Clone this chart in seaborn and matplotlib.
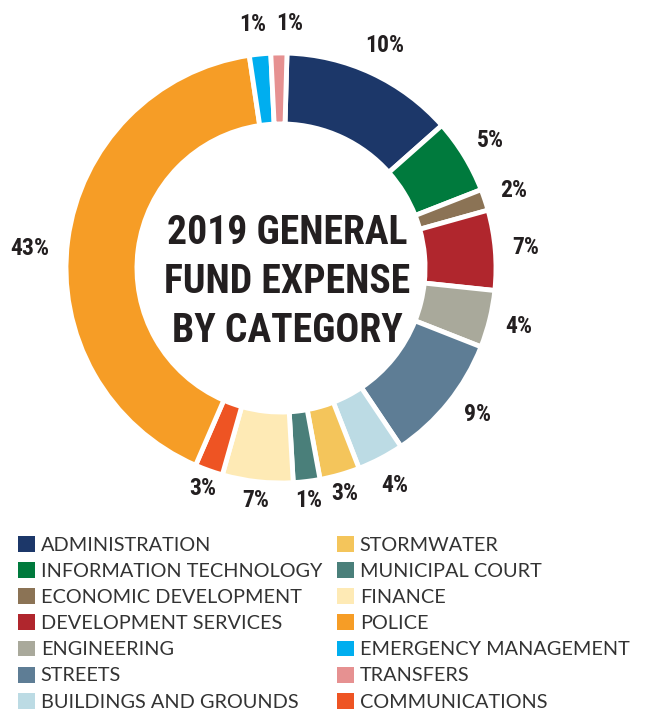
import numpy as np
import matplotlib
matplotlib.use("Agg")
import matplotlib.pyplot as plt
from matplotlib.patches import Patch
import seaborn as sns

# categories in the order the slices run, clockwise from 12 o'clock
categories = ["ADMINISTRATION", "INFORMATION TECHNOLOGY", "ECONOMIC DEVELOPMENT",
              "DEVELOPMENT SERVICES", "ENGINEERING", "STREETS", "BUILDINGS AND GROUNDS",
              "STORMWATER", "MUNICIPAL COURT", "FINANCE", "COMMUNICATIONS", "POLICE",
              "EMERGENCY MANAGEMENT", "TRANSFERS"]
# slice sizes as they are drawn (percent of the ring)
share = [13.0, 5.6, 1.6, 6.0, 4.3, 9.6, 3.5, 3.0, 2.0, 5.3, 2.1, 41.1, 1.6, 1.2]
# percentages printed next to the slices
pct_labels = ["10%", "5%", "2%", "7%", "4%", "9%", "4%", "3%", "1%", "7%", "3%", "43%", "1%", "1%"]
colors = ["#1c3769", "#007a3d", "#8b7355", "#b0262d", "#a9a99b", "#5e7d95", "#bcdbe4",
          "#f4c55b", "#4a7f7a", "#feeab5", "#ee5423", "#f69d26", "#00aeef", "#e69191"]

legend_left = ["ADMINISTRATION", "INFORMATION TECHNOLOGY", "ECONOMIC DEVELOPMENT",
               "DEVELOPMENT SERVICES", "ENGINEERING", "STREETS", "BUILDINGS AND GROUNDS"]
legend_right = ["STORMWATER", "MUNICIPAL COURT", "FINANCE", "POLICE",
                "EMERGENCY MANAGEMENT", "TRANSFERS", "COMMUNICATIONS"]

title = "2019 GENERAL\nFUND EXPENSE\nBY CATEGORY"

sns.set_theme(style="white")
narrow = ["Roboto Condensed", "Liberation Sans Narrow", "Roboto", "DejaVu Sans"]
plt.rcParams["font.family"] = narrow
palette = dict(zip(categories, sns.color_palette(colors)))

W, H = 647, 713
fig = plt.figure(figsize=(W / 100, H / 100), dpi=100)
cx, cy, R = 281, 268, 215
ax = fig.add_axes([(cx - R) / W, (H - cy - R) / H, 2 * R / W, 2 * R / H])

wedges, _ = ax.pie(share, colors=[palette[c] for c in categories], startangle=88.4,
                   counterclock=False, radius=1.0,
                   wedgeprops=dict(width=0.33, edgecolor="white", linewidth=3.5))
ax.set_xlim(-1, 1)
ax.set_ylim(-1, 1)
ax.set_aspect("equal")
ax.axis("off")

# small angular nudges so neighbouring labels do not collide
nudge = {"TRANSFERS": -2.5, "EMERGENCY MANAGEMENT": 1.0, "POLICE": 3.0, "STREETS": 2.0}
for w, lab, cat in zip(wedges, pct_labels, categories):
    a = (w.theta1 + w.theta2) / 2 + nudge.get(cat, 0.0)
    mid = np.deg2rad(a)
    r = 1.14 if np.sin(mid) > -0.9 else 1.09
    if cat == "POLICE":
        r = 1.17
    ax.text(r * np.cos(mid), r * np.sin(mid), lab, ha="center", va="center",
            fontsize=17, fontweight="bold", color="#231f20")

ax.text(0.03, -0.065, title, ha="center", va="center", fontsize=28.5,
        fontweight="bold", color="#231f20", linespacing=1.38)

leg_font = dict(family=["Lato", "DejaVu Sans"], size=14.3)
for names, x0 in [(legend_left, 18), (legend_right, 337)]:
    handles = [Patch(facecolor=palette[n], edgecolor="none") for n in names]
    leg = fig.legend(handles, names, loc="upper left",
                     bbox_to_anchor=(x0 / W, (H - 536) / H), frameon=False,
                     borderpad=0, borderaxespad=0, handlelength=0.85, handleheight=0.85,
                     handletextpad=0.3, labelspacing=0.42, prop=leg_font)
    for t in leg.get_texts():
        t.set_color("#333333")

fig.savefig("out.png", dpi=100, facecolor="white")
